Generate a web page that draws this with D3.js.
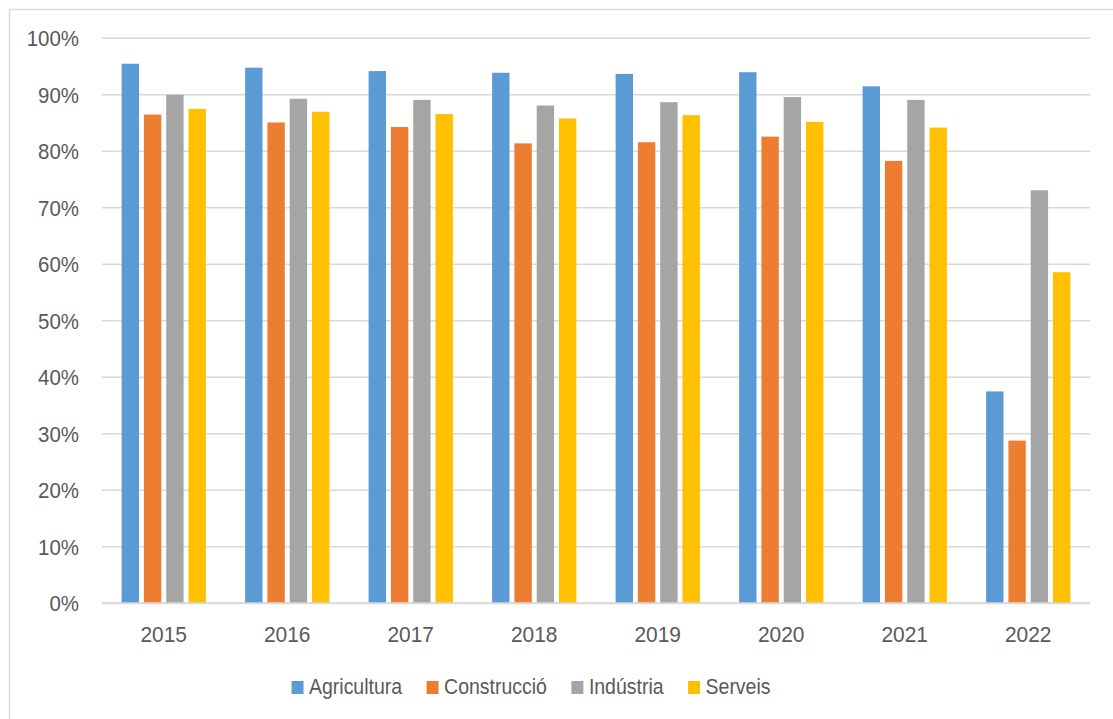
<!DOCTYPE html>
<html>
<head>
<meta charset="utf-8">
<script src="https://cdn.jsdelivr.net/npm/d3@7"></script>
<style>
  body { margin: 0; background: #fff; }
  svg { display: block; }
  text { font-family: "Liberation Sans", Arial, sans-serif; fill: #595959; }
</style>
</head>
<body>
<svg width="1113" height="719"></svg>
<script>
// data (fractions)
const years = ['2015', '2016', '2017', '2018', '2019', '2020', '2021', '2022'];
const seriesNames = ['Agricultura', 'Construcció', 'Indústria', 'Serveis'];
const agricultura  = [0.955, 0.948, 0.942, 0.939, 0.937, 0.940, 0.915, 0.375];
const construccio  = [0.865, 0.851, 0.843, 0.814, 0.816, 0.826, 0.783, 0.288];
const industria    = [0.900, 0.893, 0.891, 0.881, 0.887, 0.896, 0.891, 0.731];
const serveis      = [0.875, 0.870, 0.866, 0.858, 0.864, 0.852, 0.842, 0.586];
const yTicks = [0, 0.1, 0.2, 0.3, 0.4, 0.5, 0.6, 0.7, 0.8, 0.9, 1.0];
const colors = ['#5B9BD5', '#ED7D31', '#A5A5A5', '#FFC000'];

const values = [agricultura, construccio, industria, serveis];

let svg = d3.select('svg');

// narrow the text a bit so it looks closer to Calibri
function squeeze(sel, k) {
  sel.each(function () {
    let w = this.getComputedTextLength();
    d3.select(this).attr('textLength', w * k).attr('lengthAdjust', 'spacingAndGlyphs');
  });
}

// outer frame
svg.append('rect')
  .attr('x', 9.5).attr('y', 9.5)
  .attr('width', 1120).attr('height', 720)
  .attr('fill', 'none').attr('stroke', '#d9d9d9').attr('stroke-width', 1.5);

let x0 = d3.scaleBand().domain(years).range([102, 1090]).padding(0);
let x1 = d3.scaleBand().domain(seriesNames).range([0, x0.bandwidth()])
  .paddingInner(0.22).paddingOuter(0.88);
let y = d3.scaleLinear().domain([0, 1]).range([603.3, 38.3]);

// gridlines
svg.append('g').attr('class', 'grid')
  .selectAll('line')
  .data(yTicks)
  .enter().append('line')
  .attr('x1', 102).attr('x2', 1090)
  .attr('y1', d => y(d)).attr('y2', d => y(d))
  .attr('stroke', '#d9d9d9').attr('stroke-width', 1.5);

// y labels
svg.append('g')
  .selectAll('text')
  .data(yTicks)
  .enter().append('text')
  .attr('x', 79)
  .attr('y', d => y(d) + 8)
  .attr('text-anchor', 'end')
  .attr('font-size', 22)
  .text(d => Math.round(d * 100) + '%')
  .call(squeeze, 0.93);

// bars
let groups = svg.append('g').selectAll('g')
  .data(years)
  .enter().append('g')
  .attr('transform', d => 'translate(' + x0(d) + ',0)');

groups.selectAll('rect')
  .data((d, i) => seriesNames.map((s, j) => ({ s: s, v: values[j][i], c: colors[j] })))
  .enter().append('rect')
  .attr('x', d => x1(d.s))
  .attr('width', x1.bandwidth())
  .attr('y', d => y(d.v))
  .attr('height', d => y(0) - y(d.v))
  .attr('fill', d => d.c);

// baseline
svg.append('line')
  .attr('x1', 102).attr('x2', 1090)
  .attr('y1', y(0)).attr('y2', y(0))
  .attr('stroke', '#d9d9d9').attr('stroke-width', 2);

// x labels
svg.append('g')
  .selectAll('text')
  .data(years)
  .enter().append('text')
  .attr('x', d => x0(d) + x0.bandwidth() / 2)
  .attr('y', 642)
  .attr('text-anchor', 'middle')
  .attr('font-size', 22)
  .text(d => d)
  .call(squeeze, 0.95);

// legend
let legend = svg.append('g').attr('class', 'legend');
let items = legend.selectAll('g')
  .data(seriesNames)
  .enter().append('g');
items.append('rect')
  .attr('width', 12).attr('height', 13)
  .attr('y', 681)
  .attr('fill', (d, i) => colors[i]);
items.append('text')
  .attr('x', 17.5)
  .attr('y', 694)
  .attr('font-size', 22)
  .text(d => d)
  .call(squeeze, 0.885);

let widths = [];
items.select('text').each(function () { widths.push(+this.getAttribute('textLength')); });
let gap = 24.5;
let total = d3.sum(widths, w => w + 17.5) + gap * (widths.length - 1);
let cx = 531 - total / 2;
items.attr('transform', (d, i) => {
  let t = 'translate(' + cx + ',0)';
  cx += widths[i] + 17.5 + gap;
  return t;
});
</script>
</body>
</html>
